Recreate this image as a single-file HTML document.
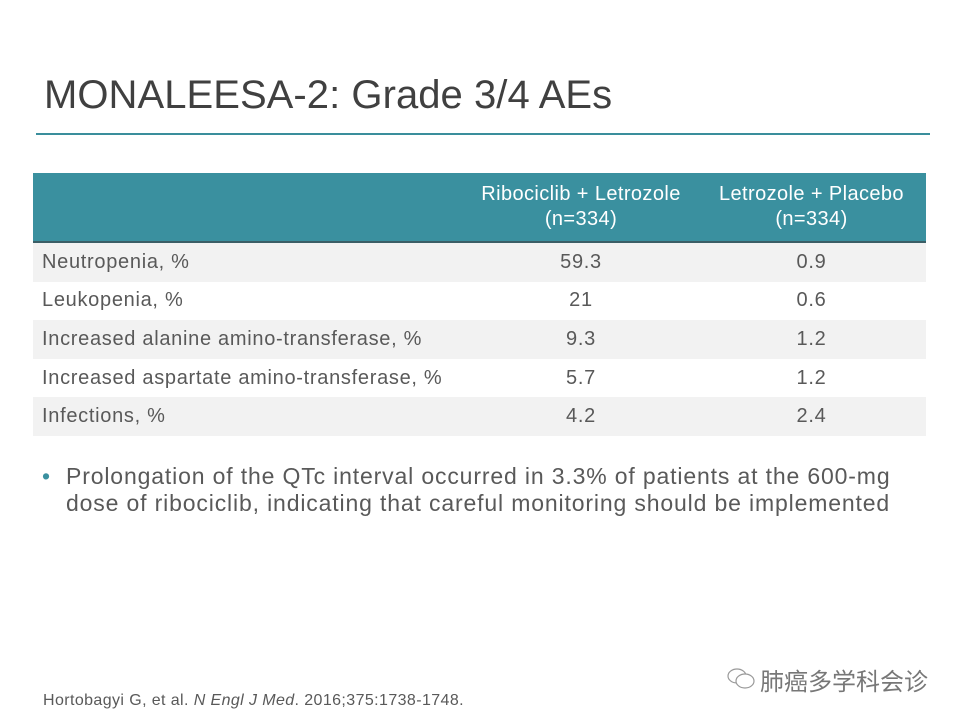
<!DOCTYPE html>
<html><head><meta charset="utf-8"><style>
body{margin:0;width:960px;height:720px;background:#fff;position:relative;overflow:hidden;font-family:"Liberation Sans","DejaVu Sans",sans-serif;color:#595959}
.t{position:absolute;left:44px;top:73px;font-size:40px;color:#404040;letter-spacing:0.05px}
.rule{position:absolute;left:36px;top:133px;width:894px;height:2px;background:#3a8e9c}
table{position:absolute;left:33px;top:173px;width:893px;border-collapse:collapse;font-size:20px;letter-spacing:0.7px}
th{background:#3a909f;color:#fff;font-weight:normal;height:66px;line-height:25px;border-bottom:2px solid #3b5e66;text-align:center;letter-spacing:0.4px}
td{height:38.6px;padding:0;color:#595959}
td:first-child{padding-left:9px}
td.c{text-align:center}
tr.g td{background:#f2f2f2}
.b{position:absolute;left:42px;top:463px;font-size:23px;line-height:27px;color:#595959;letter-spacing:0.85px}
.b span{position:absolute;left:0;color:#3a909f}
.b div{padding-left:24px;white-space:nowrap}
.ref{position:absolute;left:43px;top:692px;font-size:16px;color:#595959;letter-spacing:0.4px}
.wm{position:absolute;left:760px;top:662px;font-size:24px;color:#777;font-family:"Liberation Sans","Noto Sans CJK SC",sans-serif}
</style></head><body>
<div class="t">MONALEESA-2: Grade 3/4 AEs</div>
<div class="rule"></div>
<table>
<tr><th style="width:430px"></th><th style="width:230px">Ribociclib + Letrozole<br>(n=334)</th><th>Letrozole + Placebo<br>(n=334)</th></tr>
<tr class="g"><td>Neutropenia, %</td><td class="c">59.3</td><td class="c">0.9</td></tr>
<tr><td>Leukopenia, %</td><td class="c">21</td><td class="c">0.6</td></tr>
<tr class="g"><td>Increased alanine amino-transferase, %</td><td class="c">9.3</td><td class="c">1.2</td></tr>
<tr><td>Increased aspartate amino-transferase, %</td><td class="c">5.7</td><td class="c">1.2</td></tr>
<tr class="g"><td>Infections, %</td><td class="c">4.2</td><td class="c">2.4</td></tr>
</table>
<div class="b"><span>•</span><div>Prolongation of the QTc interval occurred in 3.3% of patients at the 600-mg<br>dose of ribociclib, indicating that careful monitoring should be implemented</div></div>
<div class="wm"><svg width="30" height="26" style="position:absolute;left:-34px;top:4px" fill="none" stroke="#999" stroke-width="1.2"><ellipse cx="11" cy="10" rx="9" ry="7"/><ellipse cx="19" cy="15" rx="9" ry="7" fill="#fff"/></svg>肺癌多学科会诊</div>
<div class="ref">Hortobagyi G, et al. <i>N Engl J Med</i>. 2016;375:1738-1748.</div>
</body></html>
